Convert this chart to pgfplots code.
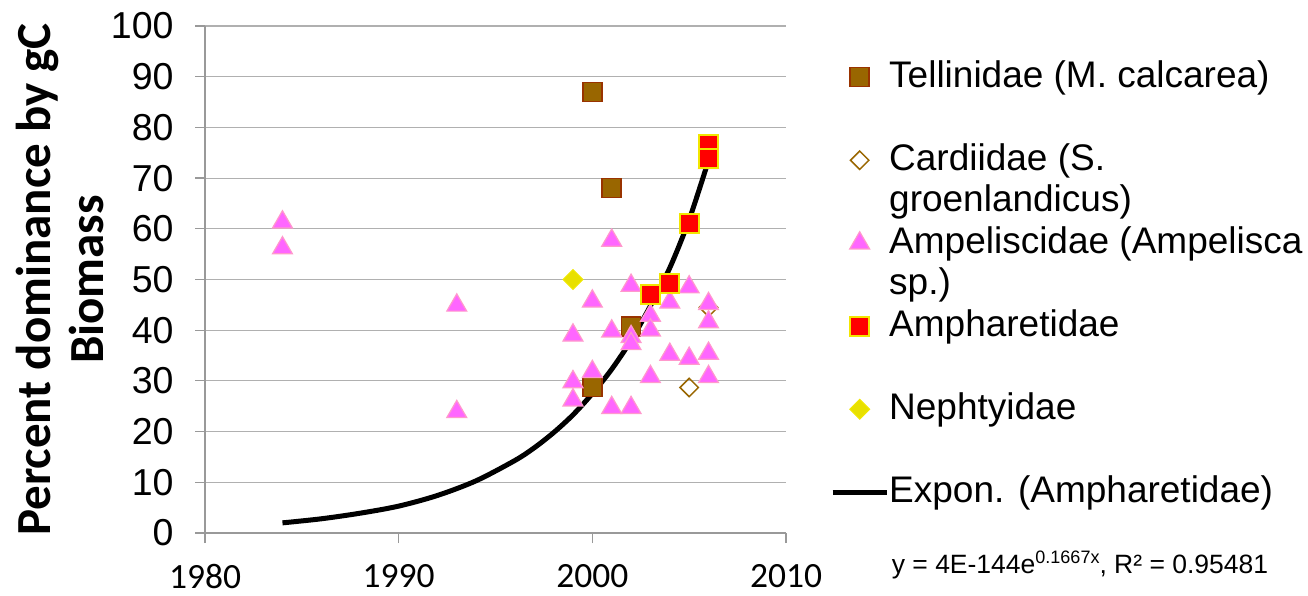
\documentclass[border=0pt]{standalone}
\usepackage{pgfplots}
\pgfplotsset{compat=1.18}
\usepackage{fontspec}
\setmainfont{Liberation Sans}
\newfontfamily\carlito{Carlito}
\definecolor{tellF}{HTML}{996600}
\definecolor{tellB}{HTML}{993300}
\definecolor{cardB}{HTML}{996600}
\definecolor{ampeF}{HTML}{FF66FF}
\definecolor{ampeB}{HTML}{FF99CC}
\definecolor{amphF}{HTML}{FF0000}
\definecolor{amphB}{HTML}{F2E600}
\definecolor{nephF}{HTML}{E8E000}
\definecolor{nephB}{HTML}{F0E800}
\definecolor{axgray}{HTML}{999999}
\definecolor{grgray}{HTML}{B0B0B0}
\begin{document}
\begin{tikzpicture}
\useasboundingbox (0,0) rectangle (1308bp,596bp);
\begin{axis}[
  at={(205bp,63bp)}, anchor=south west,
  scale only axis, width=581bp, height=507bp,
  xmin=1980, xmax=2010, ymin=0, ymax=100,
  xtick={1980,1990,2000,2010},
  ytick={0,10,...,100},
  axis x line*=bottom, axis y line*=left,
  axis line style={axgray, line width=1.2bp},
  tick style={axgray, line width=1.2bp},
  tick align=outside, major tick length=10bp,
  ymajorgrids=true,
  major grid style={grgray, line width=1.1bp},
  /pgf/number format/assume math mode=true,
  /pgf/number format/1000 sep={},
  xticklabel style={font=\carlito\fontsize{35.5bp}{40bp}\selectfont, inner sep=0pt, yshift=-21bp},
  yticklabel style={font=\fontsize{37.5bp}{42bp}\selectfont, xshift=-18bp},
  ylabel={Percent dominance by gC\\Biomass},
  ylabel style={font=\carlito\bfseries\fontsize{49bp}{53bp}\selectfont, align=center, at={(rel axis cs:-0.2496,0.5)}, anchor=center},
  legend image code/.code={\draw[mark repeat=2,mark phase=2] plot coordinates {(0bp,0bp) (27bp,0bp) (54bp,0bp)};},
  legend cell align=left,
  legend style={draw=none, fill=none, inner sep=0pt, row sep=0pt, column sep=0bp,
    at={(1.0757,0.9403)}, anchor=north west,
    font=\fontsize{37bp}{41bp}\selectfont,
    nodes={inner sep=0pt, text height=30.75bp, text depth=10.75bp}},
]
% Tellinidae
\addplot[only marks, mark=square*, mark size=9.5bp, draw=tellB, fill=tellF, line width=1.5bp]
  coordinates {(2000,87) (2001,68) (2002,40.7) (2000,28.8)};
\addlegendentry{Tellinidae (M. calcarea)}
\addlegendimage{empty legend}\addlegendentry{}
% Cardiidae
\addplot[only marks, mark=square, mark size=6.5bp, draw=cardB, line width=1.5bp, mark options={rotate=45}]
  coordinates {(2005,28.7) (2006,44.5)};
\addlegendentry{Cardiidae (S.}
\addlegendimage{empty legend}\addlegendentry{groenlandicus)}
% Ampeliscidae
\addplot[only marks, mark=triangle*, mark size=11.5bp, draw=ampeB, fill=ampeF, line width=1.2bp]
  coordinates {
  (1984,61.3) (1984,56.2) (1993,44.9) (1993,23.9)
  (1999,39.0) (1999,29.8) (1999,26.2)
  (2000,45.7) (2000,31.8)
  (2001,57.7) (2001,39.8) (2001,24.7)
  (2002,48.8) (2002,38.7) (2002,37.3) (2002,24.7)
  (2003,42.9) (2003,40.0) (2003,30.8)
  (2004,45.5) (2004,35.2)
  (2005,48.5) (2005,34.4)
  (2006,45.2) (2006,41.6) (2006,35.4) (2006,30.8) (2006,73.0)};
\addlegendentry{Ampeliscidae (Ampelisca}
\addlegendimage{empty legend}\addlegendentry{sp.)}
% Ampharetidae
\addplot[only marks, mark=square*, mark size=9.5bp, draw=amphB, fill=amphF, line width=2bp]
  coordinates {(2006,76.7) (2006,73.8) (2005,61.0) (2004,49.2) (2003,47.0)};
\addlegendentry{Ampharetidae}
\addlegendimage{empty legend}\addlegendentry{}
% Nephtyidae
\addplot[only marks, mark=square*, mark size=7bp, draw=nephB, fill=nephF, line width=1bp, mark options={rotate=45}]
  coordinates {(1999,50.0)};
\addlegendentry{Nephtyidae}
\addlegendimage{empty legend}\addlegendentry{}
% Exponential trend
\addplot[black, line width=5bp, smooth, no marks]
  coordinates {(1984,2.0) (1986,2.8) (1988,3.9) (1990,5.3) (1992,7.4) (1994,10.3)
  (1996,14.3) (1997,16.8) (1998,19.8) (1999,23.3) (2000,27.5) (2001,32.3)
  (2002,38.0) (2003,44.8) (2004,52.3) (2005,61.8) (2006,73.5)};
\addlegendentry{Expon. (Ampharetidae)}
\end{axis}
\node[font=\fontsize{26.5bp}{30bp}\selectfont, anchor=center] at (1080bp,31bp)
  {y = 4E-144e\raisebox{0.4em}{\fontsize{18bp}{18bp}\selectfont 0.1667x}, R² = 0.95481};
\end{tikzpicture}
\end{document}
